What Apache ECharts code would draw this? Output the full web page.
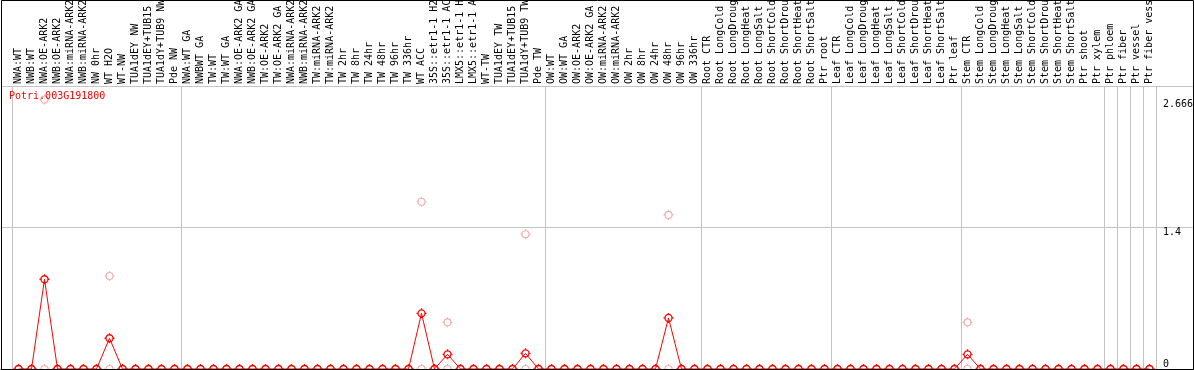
<!DOCTYPE html>
<html>
<head>
<meta charset="utf-8">
<title>Potri.003G191800</title>
<script src="https://cdn.jsdelivr.net/npm/echarts@6/dist/echarts.min.js"></script>
<style>
  html, body { margin: 0; padding: 0; background: #fff; }
  #chart { width: 1194px; height: 370px; }
</style>
</head>
<body>
<div id="chart"></div>
<script>
// ── Data ────────────────────────────────────────────────────────────────
const geneId = 'Potri.003G191800';

const categories = [
  'NWA:WT', 'NWB:WT', 'NWA:OE-ARK2', 'NWB:OE-ARK2', 'NWA:miRNA-ARK2', 'NWB:miRNA-ARK2',
  'NW 0hr', 'WT H2O', 'WT-NW', 'TUA1dEY NW', 'TUA1dEY+TUB15 NW', 'TUA1dY+TUB9 NW', 'Pde NW',
  'NWA:WT GA', 'NWBWT GA', 'TW:WT', 'TW:WT GA', 'NWA:OE-ARK2 GA', 'NWB:OE-ARK2 GA',
  'TW:OE-ARK2', 'TW:OE-ARK2 GA', 'NWA:miRNA-ARK2', 'NWB:miRNA-ARK2', 'TW:miRNA-ARK2',
  'TW:miRNA-ARK2', 'TW 2hr', 'TW 8hr', 'TW 24hr', 'TW 48hr', 'TW 96hr', 'TW 336hr',
  'WT ACC', '35S::etr1-1 H2O', '35S::etr1-1 ACC', 'LMX5::etr1-1 H2O', 'LMX5::etr1-1 ACC',
  'WT-TW', 'TUA1dEY TW', 'TUA1dEY+TUB15 TW', 'TUA1dY+TUB9 TW', 'Pde TW',
  'OW:WT', 'OW:WT GA', 'OW:OE-ARK2', 'OW:OE-ARK2 GA', 'OW:miRNA-ARK2', 'OW:miRNA-ARK2',
  'OW 2hr', 'OW 8hr', 'OW 24hr', 'OW 48hr', 'OW 96hr', 'OW 336hr',
  'Root CTR', 'Root LongCold', 'Root LongDrought', 'Root LongHeat', 'Root LongSalt',
  'Root ShortCold', 'Root ShortDrought', 'Root ShortHeat', 'Root ShortSalt', 'Ptr root',
  'Leaf CTR', 'Leaf LongCold', 'Leaf LongDrought', 'Leaf LongHeat', 'Leaf LongSalt',
  'Leaf ShortCold', 'Leaf ShortDrought', 'Leaf ShortHeat', 'Leaf ShortSalt', 'Ptr leaf',
  'Stem CTR', 'Stem LongCold', 'Stem LongDrought', 'Stem LongHeat', 'Stem LongSalt',
  'Stem ShortCold', 'Stem ShortDrought', 'Stem ShortHeat', 'Stem ShortSalt', 'Ptr shoot',
  'Ptr xylem', 'Ptr phloem', 'Ptr fiber', 'Ptr vessel', 'Ptr fiber vessel'
];

// mean expression per sample (red line)
const meanValues = [
  0, 0, 0.888, 0, 0, 0, 0, 0.304, 0, 0, 0, 0, 0,
  0, 0, 0, 0, 0, 0, 0, 0, 0, 0, 0, 0, 0, 0, 0, 0, 0, 0,
  0.551, 0, 0.145, 0, 0, 0, 0, 0, 0.155, 0,
  0, 0, 0, 0, 0, 0, 0, 0, 0, 0.505, 0, 0,
  0, 0, 0, 0, 0, 0, 0, 0, 0, 0,
  0, 0, 0, 0, 0, 0, 0, 0, 0, 0,
  0.145, 0, 0, 0, 0, 0, 0, 0, 0, 0,
  0, 0, 0, 0, 0
];

// individual replicates (pink circles): highest and lowest per sample
const replicateHigh = [
  0, 0, 2.666, 0, 0, 0, 0, 0.92, 0, 0, 0, 0, 0,
  0, 0, 0, 0, 0, 0, 0, 0, 0, 0, 0, 0, 0, 0, 0, 0, 0, 0,
  1.655, 0, 0.462, 0, 0, 0, 0, 0, 1.333, 0,
  0, 0, 0, 0, 0, 0, 0, 0, 0, 1.524, 0, 0,
  0, 0, 0, 0, 0, 0, 0, 0, 0, 0,
  0, 0, 0, 0, 0, 0, 0, 0, 0, 0,
  0.462, 0, 0, 0, 0, 0, 0, 0, 0, 0,
  0, 0, 0, 0, 0
];
const replicateLow = [
  0, 0, 0, 0, 0, 0, 0, 0, 0, 0, 0, 0, 0,
  0, 0, 0, 0, 0, 0, 0, 0, 0, 0, 0, 0, 0, 0, 0, 0, 0, 0,
  0, 0, 0, 0, 0, 0, 0, 0, 0, 0,
  0, 0, 0, 0, 0, 0, 0, 0, 0, 0, 0, 0,
  0, 0, 0, 0, 0, 0, 0, 0, 0, 0,
  0, 0, 0, 0, 0, 0, 0, 0, 0, 0,
  0, 0, 0, 0, 0, 0, 0, 0, 0, 0,
  0, 0, 0, 0, 0
];

// sample index where a new group starts (grey separators)
const groupStarts = [0, 13, 41, 53, 63, 73, 84, 85, 86, 87];

const yMax = 2.8;
const yGridStep = 1.4;
const yLabelValues = [1.4, 2.666];
const yBaseLabel = [0];

// ── Style ───────────────────────────────────────────────────────────────
const mono = 'DejaVu Sans Mono';
const red = '#ff0000';
const pink = '#f29a9a';
const sepGrey = '#c4c4c4';
// circle with four small ticks
const marker = 'path://M1.5 5A3.5 3.5 0 1 1 8.5 5A3.5 3.5 0 1 1 1.5 5ZM5 0L5 1.5M5 8.5L5 10M0 5L1.5 5M8.5 5L10 5';

const chart = echarts.init(document.getElementById('chart'), null, { renderer: 'canvas' });

chart.setOption({
  animation: false,
  backgroundColor: '#fff',
  title: {
    text: geneId, left: 9, top: 91, padding: 0,
    textStyle: { fontSize: 10, fontWeight: 'normal', color: red, fontFamily: mono }
  },
  grid: [
    { left: 12, right: 38, top: 86, bottom: 1, outerBoundsMode: 'none', containLabel: false },  // samples
    { left: 1, right: 1, top: 86, bottom: 1, outerBoundsMode: 'none', containLabel: false }     // frame + y labels
  ],
  xAxis: [
    {
      type: 'category', gridIndex: 0, position: 'top', data: categories, boundaryGap: true,
      axisLine: { show: false }, axisTick: { show: false },
      axisLabel: { interval: 0, rotate: 90, margin: 2, fontSize: 10, fontFamily: mono, color: '#000' },
      splitLine: {
        show: true,
        interval: (idx) => groupStarts.indexOf(idx) >= 0,
        lineStyle: { color: sepGrey, width: 1 }
      }
    },
    {
      type: 'value', gridIndex: 1, position: 'top', min: 0, max: 1,
      axisLine: { show: true, lineStyle: { color: '#000', width: 1 } },
      axisTick: { show: false }, axisLabel: { show: false }, splitLine: { show: false }
    }
  ],
  yAxis: [
    { type: 'value', gridIndex: 0, min: 0, max: yMax, show: false },
    {
      type: 'value', gridIndex: 1, min: 0, max: yMax, interval: yGridStep,
      position: 'right', offset: -31,
      axisLine: { show: false }, axisTick: { show: false },
      axisLabel: {
        customValues: yLabelValues, margin: 1, verticalAlign: 'top',
        fontSize: 10, fontFamily: mono, color: '#000', formatter: (v) => String(v)
      },
      splitLine: { show: true, lineStyle: { color: sepGrey, width: 1 } }
    },
    {
      type: 'value', gridIndex: 1, min: 0, max: yMax,
      position: 'right', offset: -31,
      axisLine: { show: false }, axisTick: { show: false },
      axisLabel: {
        customValues: yBaseLabel, margin: 1, verticalAlign: 'bottom',
        fontSize: 10, fontFamily: mono, color: '#000'
      },
      splitLine: { show: false }
    }
  ],
  graphic: [{
    type: 'rect', z: 100, silent: true,
    shape: { x: 1.5, y: 0.5, width: 1192, height: 369 },
    style: { fill: null, stroke: '#000', lineWidth: 1 }
  }],
  series: [
    {
      type: 'scatter', xAxisIndex: 0, yAxisIndex: 0, data: replicateLow,
      symbol: marker, symbolSize: 10,
      itemStyle: { color: 'transparent', borderColor: pink, borderWidth: 1.2 }
    },
    {
      type: 'scatter', xAxisIndex: 0, yAxisIndex: 0, data: replicateHigh,
      symbol: marker, symbolSize: 10,
      itemStyle: { color: 'transparent', borderColor: pink, borderWidth: 1.2 }
    },
    {
      type: 'line', xAxisIndex: 0, yAxisIndex: 0, data: meanValues,
      symbol: marker, symbolSize: 10, showAllSymbol: true, clip: false,
      lineStyle: { color: red, width: 1 },
      itemStyle: { color: 'transparent', borderColor: red, borderWidth: 1.3 }
    }
  ]
});
window.addEventListener('resize', () => chart.resize());
</script>
</body>
</html>
